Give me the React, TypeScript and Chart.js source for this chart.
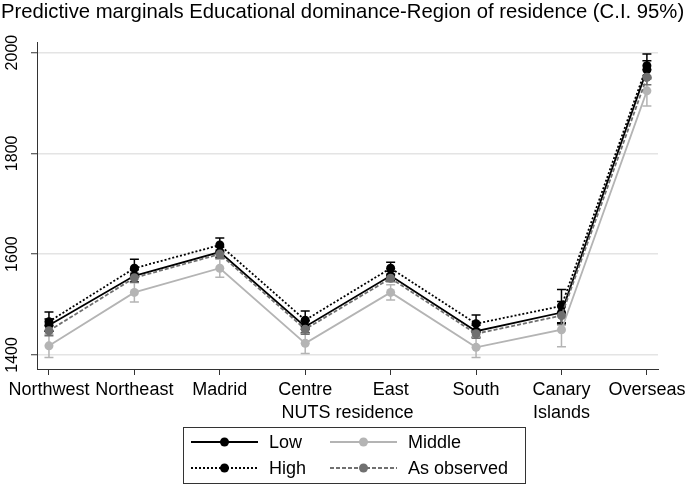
import React, { useEffect, useRef } from "react";
import { Chart, registerables } from "chart.js";

Chart.register(...registerables);

const categories = ["Northwest", "Northeast", "Madrid", "Centre", "East", "South", "Canary Islands", "Overseas"];
const tickLabels = [["Northwest"], ["Northeast"], ["Madrid"], ["Centre"], ["East"], ["South"], ["Canary", "Islands"], ["Overseas"]];
const yTicks = [1400, 1600, 1800, 2000];

const lowValues = [1459, 1557, 1604, 1456, 1557, 1447, 1484, 1966];
const middleValues = [1418, 1524, 1572, 1423, 1524, 1415, 1450, 1924];
const highValues = [1466, 1572, 1618, 1469, 1572, 1462, 1497, 1974];
const observedValues = [1448, 1553, 1600, 1451, 1552, 1442, 1478, 1951];

const lowCI = [12, 12, 10, 12, 9, 12, 22, 18];
const middleCI = [23, 19, 18, 20, 15, 20, 34, 30];
const highCI = [19, 18, 14, 18, 12, 17, 33, 23];
const observedCI = [10, 9, 8, 10, 7, 9, 18, 15];

const FONT = '"Liberation Sans", Arial, Helvetica, sans-serif';
const TITLE = "Predictive marginals Educational dominance-Region of residence (C.I. 95%)";
const X_TITLE = "NUTS residence";

type Series = { label: string; values: number[]; ci: number[]; color: string; dash: number[]; order: number };

const series: Series[] = [
  { label: "Low", values: lowValues, ci: lowCI, color: "#000000", dash: [], order: 3 },
  { label: "Middle", values: middleValues, ci: middleCI, color: "#b4b4b4", dash: [], order: 2 },
  { label: "High", values: highValues, ci: highCI, color: "#000000", dash: [2, 2], order: 1 },
  { label: "As observed", values: observedValues, ci: observedCI, color: "#707070", dash: [4, 2], order: 0 },
];

const errorBarPlugin = {
  id: "errorBars",
  beforeDatasetsDraw(chart: any) {
    const ctx = chart.ctx;
    const xs = chart.scales.x;
    const ys = chart.scales.y;
    ctx.save();
    series.forEach((s) => {
      ctx.strokeStyle = s.color;
      ctx.lineWidth = 1.5;
      ctx.setLineDash([]);
      s.values.forEach((v, i) => {
        const x = xs.getPixelForValue(i);
        const yTop = ys.getPixelForValue(v + s.ci[i]);
        const yBot = ys.getPixelForValue(v - s.ci[i]);
        ctx.beginPath();
        ctx.moveTo(x, yTop);
        ctx.lineTo(x, yBot);
        ctx.moveTo(x - 4.5, yTop);
        ctx.lineTo(x + 4.5, yTop);
        ctx.moveTo(x - 4.5, yBot);
        ctx.lineTo(x + 4.5, yBot);
        ctx.stroke();
      });
    });
    ctx.restore();
  },
};

const textPlugin = {
  id: "texts",
  afterDraw(chart: any) {
    const ctx = chart.ctx;
    const xs = chart.scales.x;
    const ys = chart.scales.y;
    const area = chart.chartArea;
    ctx.save();
    ctx.fillStyle = "#000";
    // title
    ctx.font = `20.3px ${FONT}`;
    ctx.textAlign = "left";
    ctx.textBaseline = "alphabetic";
    ctx.fillText(TITLE, 1, 18);
    // y tick labels (rotated)
    ctx.font = `16px ${FONT}`;
    yTicks.forEach((t) => {
      const y = ys.getPixelForValue(t);
      ctx.save();
      ctx.translate(17, y);
      ctx.rotate(-Math.PI / 2);
      ctx.textAlign = "center";
      ctx.textBaseline = "alphabetic";
      ctx.fillText(String(t), 0, 0);
      ctx.restore();
    });
    // x tick labels
    ctx.font = `18px ${FONT}`;
    ctx.textAlign = "center";
    ctx.textBaseline = "alphabetic";
    tickLabels.forEach((lines, i) => {
      const x = xs.getPixelForValue(i);
      lines.forEach((ln, k) => ctx.fillText(ln, x, 395 + k * 23));
    });
    // x axis title
    ctx.fillText(X_TITLE, (area.left + area.right) / 2, 418);
    // legend
    const boxL = 183.5, boxT = 427.5, boxR = 525.5, boxB = 483.5;
    ctx.strokeStyle = "#333";
    ctx.lineWidth = 1;
    ctx.setLineDash([]);
    ctx.strokeRect(boxL, boxT, boxR - boxL, boxB - boxT);
    const cols = [191, 330];
    const rows = [442, 468];
    series.forEach((s, idx) => {
      const cx = cols[idx % 2];
      const cy = rows[Math.floor(idx / 2)];
      ctx.strokeStyle = s.color;
      ctx.lineWidth = 1.8;
      ctx.setLineDash(s.dash);
      ctx.beginPath();
      ctx.moveTo(cx, cy);
      ctx.lineTo(cx + 67, cy);
      ctx.stroke();
      ctx.setLineDash([]);
      ctx.fillStyle = s.color;
      ctx.beginPath();
      ctx.arc(cx + 33.5, cy, 4.5, 0, Math.PI * 2);
      ctx.fill();
      ctx.fillStyle = "#000";
      ctx.font = `18px ${FONT}`;
      ctx.textAlign = "left";
      ctx.textBaseline = "middle";
      ctx.fillText(s.label, cx + 78, cy + 1);
    });
    ctx.restore();
  },
};

export default function App() {
  const ref = useRef<HTMLCanvasElement | null>(null);
  useEffect(() => {
    if (!ref.current) return;
    const chart = new Chart(ref.current, {
      type: "line",
      data: {
        datasets: series.map((s) => ({
          label: s.label,
          data: s.values.map((v, i) => ({ x: i, y: v })),
          borderColor: s.color,
          backgroundColor: s.color,
          borderWidth: 1.8,
          borderDash: s.dash,
          pointRadius: 4.5,
          pointBorderWidth: 0,
          pointBackgroundColor: s.color,
          tension: 0,
          order: s.order,
          clip: false,
        })) as any,
      },
      options: {
        responsive: false,
        animation: false,
        devicePixelRatio: 1,
        layout: { padding: { left: 31, right: 30, top: 42, bottom: 112 } },
        plugins: { legend: { display: false }, tooltip: { enabled: false }, title: { display: false } },
        scales: {
          x: {
            type: "linear",
            min: -0.14,
            max: 7.13,
            afterBuildTicks: (scale: any) => {
              scale.ticks = categories.map((_, i) => ({ value: i }));
            },
            ticks: { display: false },
            grid: { drawOnChartArea: false, drawTicks: true, tickLength: 6, tickColor: "#333", tickWidth: 1 },
            border: { display: true, color: "#333", width: 1 },
          },
          y: {
            type: "linear",
            min: 1372,
            max: 2021,
            afterBuildTicks: (scale: any) => {
              scale.ticks = yTicks.map((v) => ({ value: v }));
            },
            ticks: { display: false },
            grid: { color: "#e4e4e4", lineWidth: 1.5, drawTicks: true, tickLength: 6, tickColor: "#333", tickWidth: 1 },
            border: { display: true, color: "#333", width: 1 },
          },
        },
      },
      plugins: [errorBarPlugin, textPlugin],
    });
    return () => chart.destroy();
  }, []);
  return (
    <div style={{ position: "absolute", left: 0, top: 0, width: 688, height: 487, background: "#fff" }}>
      <canvas ref={ref} width={688} height={487} />
    </div>
  );
}
